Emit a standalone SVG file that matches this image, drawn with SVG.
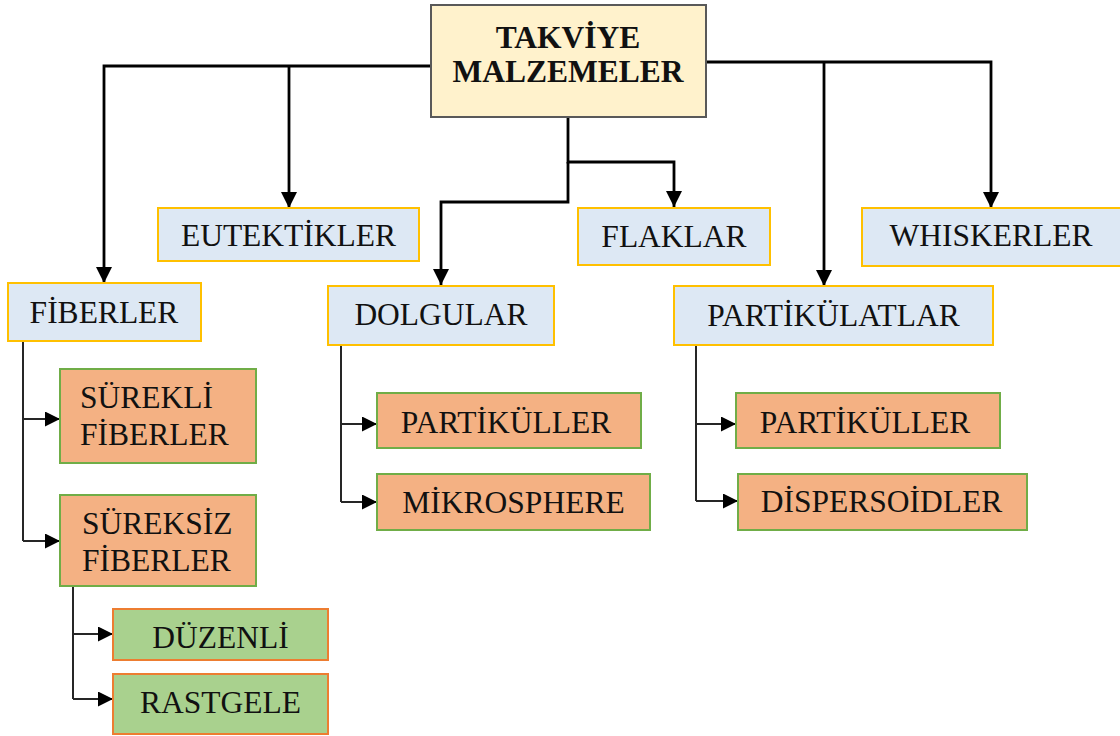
<svg xmlns="http://www.w3.org/2000/svg" width="1120" height="736" viewBox="0 0 1120 736">
<style>
.t{font-family:"Liberation Serif","Times New Roman",serif;font-size:31.5px;fill:#111;text-anchor:middle}
.tl{font-family:"Liberation Serif","Times New Roman",serif;font-size:31.5px;fill:#111}
.tb{font-family:"Liberation Serif","Times New Roman",serif;font-size:31.5px;font-weight:bold;fill:#111;text-anchor:middle}
.top{fill:#fff2cc;stroke:#595959;stroke-width:2}
.blue{fill:#dde8f4;stroke:#ffc000;stroke-width:2}
.org{fill:#f4b183;stroke:#70ad47;stroke-width:2}
.grn{fill:#a9d18e;stroke:#ed7d31;stroke-width:2}
.main{fill:none;stroke:#000;stroke-width:2.8}
.sub{fill:none;stroke:#262626;stroke-width:2}
</style>
<defs>
<marker id="ah" markerUnits="userSpaceOnUse" markerWidth="17" markerHeight="17" refX="16" refY="8" orient="auto">
<path d="M0,0 L16,8 L0,16 z" fill="#000"/>
</marker>
<marker id="as" markerUnits="userSpaceOnUse" markerWidth="16" markerHeight="16" refX="15" refY="7.5" orient="auto">
<path d="M0,0 L15,7.5 L0,15 z" fill="#000"/>
</marker>
</defs>
<rect width="1120" height="736" fill="#fff"/>
<g id="connectors">
<path class="main" d="M431,66 H104 V283" marker-end="url(#ah)"/>
<path class="main" d="M289,66 V208" marker-end="url(#ah)"/>
<path class="main" d="M706,62 H991 V208" marker-end="url(#ah)"/>
<path class="main" d="M824,62 V286" marker-end="url(#ah)"/>
<path class="main" d="M568,117 V162 H674 V207" marker-end="url(#ah)"/>
<path class="main" d="M568,162 V202 H441 V285" marker-end="url(#ah)"/>
<path class="sub" d="M23,341 V541"/>
<path class="sub" d="M23,419 H60" marker-end="url(#as)"/>
<path class="sub" d="M23,541 H60" marker-end="url(#as)"/>
<path class="sub" d="M73,586 V699"/>
<path class="sub" d="M73,634 H113" marker-end="url(#as)"/>
<path class="sub" d="M73,699 H113" marker-end="url(#as)"/>
<path class="sub" d="M341,345 V502"/>
<path class="sub" d="M341,424 H377" marker-end="url(#as)"/>
<path class="sub" d="M341,502 H377" marker-end="url(#as)"/>
<path class="sub" d="M696,345 V501"/>
<path class="sub" d="M696,424 H736" marker-end="url(#as)"/>
<path class="sub" d="M696,501 H738" marker-end="url(#as)"/>
</g>
<g id="takviye">
<rect class="top" x="431" y="5" width="275" height="112"/>
<text class="tb" x="568" y="48">TAKVİYE</text>
<text class="tb" x="568" y="82">MALZEMELER</text>
</g>
<g id="eutektikler">
<rect class="blue" x="158" y="208" width="261" height="53"/>
<text class="t" x="288.5" y="246">EUTEKTİKLER</text>
</g>
<g id="flaklar">
<rect class="blue" x="578" y="208" width="192" height="57"/>
<text class="t" x="674" y="247">FLAKLAR</text>
</g>
<g id="whiskerler">
<rect class="blue" x="862" y="208" width="262" height="58"/>
<text class="t" x="991" y="246">WHISKERLER</text>
</g>
<g id="fiberler">
<rect class="blue" x="8" y="283" width="193" height="58"/>
<text class="t" x="104" y="323">FİBERLER</text>
</g>
<g id="dolgular">
<rect class="blue" x="328" y="286" width="226" height="59"/>
<text class="t" x="441" y="325">DOLGULAR</text>
</g>
<g id="partikulatlar">
<rect class="blue" x="674" y="286" width="319" height="59"/>
<text class="t" x="833.5" y="326">PARTİKÜLATLAR</text>
</g>
<g id="surekli">
<rect class="org" x="60" y="369" width="196" height="94"/>
<text class="tl" x="80" y="408">SÜREKLİ</text>
<text class="tl" x="80" y="445">FİBERLER</text>
</g>
<g id="sureksiz">
<rect class="org" x="60" y="495" width="196" height="91"/>
<text class="tl" x="82" y="534">SÜREKSİZ</text>
<text class="tl" x="82" y="571">FİBERLER</text>
</g>
<g id="duzenli">
<rect class="grn" x="113" y="609" width="215" height="51"/>
<text class="t" x="220.5" y="648">DÜZENLİ</text>
</g>
<g id="rastgele">
<rect class="grn" x="113" y="674" width="215" height="60"/>
<text class="t" x="220.5" y="713">RASTGELE</text>
</g>
<g id="partikuller1">
<rect class="org" x="377" y="393" width="264" height="55"/>
<text class="t" x="506" y="433">PARTİKÜLLER</text>
</g>
<g id="mikrosphere">
<rect class="org" x="377" y="474" width="273" height="56"/>
<text class="t" x="513.5" y="513">MİKROSPHERE</text>
</g>
<g id="partikuller2">
<rect class="org" x="736" y="393" width="264" height="55"/>
<text class="t" x="865" y="433">PARTİKÜLLER</text>
</g>
<g id="dispersoidler">
<rect class="org" x="738" y="474" width="289" height="56"/>
<text class="t" x="881.5" y="512">DİSPERSOİDLER</text>
</g>
</svg>
